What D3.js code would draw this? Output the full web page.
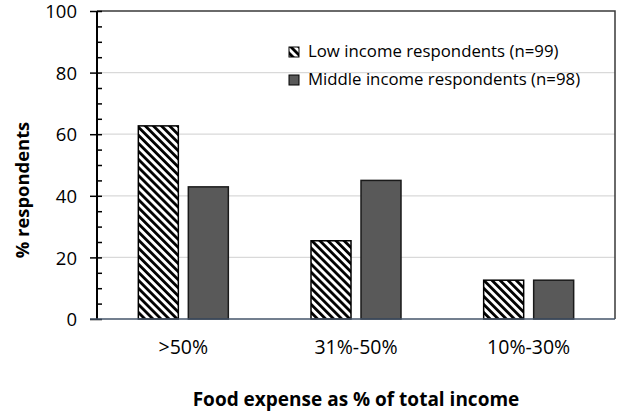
<!DOCTYPE html>
<html>
<head>
<meta charset="utf-8">
<script src="https://cdn.jsdelivr.net/npm/d3@7"></script>
<style>
  body { margin: 0; background: #fff; }
  svg { font-family: "Open Sans", sans-serif; }
</style>
</head>
<body>
<svg id="chart"></svg>
<script>
// data
var categories = [">50%", "31%-50%", "10%-30%"];
var lowIncome = [62.7, 25.4, 12.6];
var middleIncome = [42.9, 45.0, 12.6];
var seriesNames = ["Low income respondents (n=99)", "Middle income respondents (n=98)"];
var yTicks = [0, 20, 40, 60, 80, 100];

var width = 620, height = 412;
var margin = {top: 11, right: 5, bottom: 93, left: 97};

var svg = d3.select("#chart")
            .attr("width", width)
            .attr("height", height);

var defs = svg.append("defs");
var hatch = defs.append("pattern")
                .attr("id", "hatch")
                .attr("patternUnits", "userSpaceOnUse")
                .attr("width", 5.7)
                .attr("height", 5.7)
                .attr("patternTransform", "rotate(-45)");
hatch.append("rect").attr("width", 5.7).attr("height", 5.7).attr("fill", "#fff");
hatch.append("rect").attr("width", 2.8).attr("height", 5.7).attr("fill", "#000");

var x = d3.scaleBand()
          .domain(categories)
          .range([margin.left, width - margin.right]);

var x1 = d3.scaleBand()
           .domain([0, 1])
           .range([0, 90])
           .paddingInner(0.2);

var y = d3.scaleLinear()
          .domain([0, 100])
          .range([height - margin.bottom, margin.top]);

// gridlines
svg.append("g")
   .selectAll("line")
   .data(yTicks.filter(d => d > 0 && d < 100))
   .enter().append("line")
   .attr("x1", margin.left)
   .attr("x2", width - margin.right)
   .attr("y1", d => y(d))
   .attr("y2", d => y(d))
   .attr("stroke", "#d9d9d9")
   .attr("stroke-width", 1.2);

// plot border (top and right)
svg.append("path")
   .attr("d", `M${margin.left},${y(100)}H${width - margin.right}V${y(0)}`)
   .attr("fill", "none")
   .attr("stroke", "#3a3a3a")
   .attr("stroke-width", 1.5);

// bars
var groups = svg.append("g")
                .selectAll("g")
                .data(categories)
                .enter().append("g")
                .attr("transform", d => `translate(${x(d) + (x.bandwidth() - 90) / 2},0)`);

groups.append("rect")
      .attr("x", x1(0))
      .attr("width", x1.bandwidth())
      .attr("y", (d, i) => y(lowIncome[i]))
      .attr("height", (d, i) => y(0) - y(lowIncome[i]))
      .attr("fill", "url(#hatch)")
      .attr("stroke", "#000")
      .attr("stroke-width", 1.5);

groups.append("rect")
      .attr("x", x1(1))
      .attr("width", x1.bandwidth())
      .attr("y", (d, i) => y(middleIncome[i]))
      .attr("height", (d, i) => y(0) - y(middleIncome[i]))
      .attr("fill", "#595959")
      .attr("stroke", "#1a1a1a")
      .attr("stroke-width", 1.5);

// y axis with minor ticks
var yAxis = svg.append("g")
               .attr("transform", `translate(${margin.left},0)`);

yAxis.call(d3.axisLeft(y).tickValues(d3.range(0, 101, 5)).tickSize(0).tickFormat(""))
     .call(g => g.select(".domain").remove());

yAxis.append("line")
     .attr("y1", y(0)).attr("y2", y(100))
     .attr("stroke", "#000").attr("stroke-width", 2);

yAxis.selectAll(".tick line")
     .attr("x1", d => d % 20 === 0 ? -7 : 0)
     .attr("x2", 5)
     .attr("stroke", "#000")
     .attr("stroke-width", 1.5);

yAxis.selectAll(".tick")
     .filter(d => d % 20 === 0)
     .select("text")
     .text(d => d)
     .attr("x", -20)
     .attr("dy", "0.36em")
     .attr("fill", "#000")
     .attr("font-size", 18.5)
     .attr("font-family", "Open Sans, sans-serif");

// x axis
var xAxis = svg.append("g")
               .attr("transform", `translate(0,${y(0)})`)
               .call(d3.axisBottom(x).tickSize(0).tickPadding(23));
xAxis.select(".domain").remove();
xAxis.append("line")
     .attr("x1", margin.left - 7)
     .attr("x2", width - margin.right)
     .attr("stroke", "#44546a")
     .attr("stroke-width", 1.5);
xAxis.selectAll("text")
     .attr("fill", "#000")
     .attr("font-size", 19.5)
     .attr("dy", "0.6em")
     .attr("font-family", "Open Sans, sans-serif");

// axis titles
svg.append("text")
   .attr("x", (margin.left + width - margin.right) / 2)
   .attr("y", 406)
   .attr("text-anchor", "middle")
   .attr("font-weight", "bold")
   .attr("font-size", 19)
   .text("Food expense as % of total income");

svg.append("text")
   .attr("transform", "translate(29,190) rotate(-90)")
   .attr("text-anchor", "middle")
   .attr("font-weight", "bold")
   .attr("font-size", 18.4)
   .text("% respondents");

// legend
var legend = svg.append("g")
                .attr("transform", "translate(289,47)");
var legendFills = ["url(#hatch)", "#595959"];
seriesNames.forEach(function(name, i) {
  legend.append("rect")
        .attr("x", 0)
        .attr("y", i * 28)
        .attr("width", 10)
        .attr("height", 10)
        .attr("fill", legendFills[i])
        .attr("stroke", "#000")
        .attr("stroke-width", 1);
  legend.append("text")
        .attr("x", 19)
        .attr("y", i * 28 + 10)
        .attr("font-size", 16.8)
        .text(name);
});
</script>
</body>
</html>
